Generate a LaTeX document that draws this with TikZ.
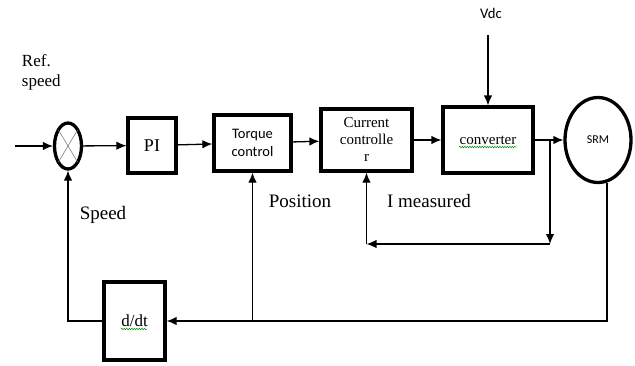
\documentclass[tikz,border=0pt]{standalone}
\usepackage{fontspec}
\setmainfont{Liberation Serif}
\newfontfamily\calibri{Carlito}
\usetikzlibrary{shapes.geometric,arrows.meta,decorations.pathmorphing}

\begin{document}
\begin{tikzpicture}
  [x=1pt,y=-1pt,line width=1.3pt,>={Latex[length=10pt,width=8.5pt]},
   block/.style={draw,line width=3.3pt,inner sep=0pt,align=center,font=\fontsize{15}{17}\selectfont},
   lbl/.style={font=\fontsize{19}{22}\selectfont},
   squiggle/.style={draw=green!55!black,line width=0.5pt,decorate,decoration={snake,amplitude=0.7pt,segment length=2.5pt}}]
  \useasboundingbox (0,0) rectangle (635,365);

  \node[ellipse,draw,line width=3.3pt,minimum width=27pt,minimum height=46pt] (sum) at (68,146) {};
  \node[block,minimum width=48pt,minimum height=55pt,font=\fontsize{18}{20}\selectfont] (pi) at (152,145.5) {PI};
  \node[block,minimum width=77pt,minimum height=56pt,font=\calibri\fontsize{14.5}{18}\selectfont] (torque) at (252.5,143) {Torque\\control};
  \node[block,minimum width=91pt,minimum height=62pt] (current) at (366.5,140) {Current\\controlle\\r};
  \node[block,minimum width=90pt,minimum height=66pt] (conv) at (488,140) {converter};
  \node[ellipse,draw,line width=3.3pt,minimum width=66pt,minimum height=85pt,inner sep=0pt,font=\calibri\fontsize{12}{14}\selectfont] (srm) at (598,140) {SRM};
  \node[block,minimum width=61pt,minimum height=78pt,font=\fontsize{17}{20}\selectfont] (ddt) at (134.5,321) {d/dt};

  \node[lbl,align=left,font=\fontsize{17}{20}\selectfont,anchor=west] (ref) at (18,72) {Ref.\\speed};
  \node[lbl] (spd) at (103,215) {Speed};
  \node[lbl] (posn) at (300,201) {Position};
  \node[lbl] (imeas) at (429,201) {I measured};
  \node[font=\calibri\fontsize{14.7}{17}\selectfont] (vdc) at (491,13) {Vdc};

  \coordinate (in) at (15,146);
  \coordinate (vdcin) at (488,35);
  \coordinate (tap) at (550,140);
  \coordinate (meas) at (550,244);

  \draw[gray,line width=0.6pt] (sum) ++(-9.5,-16) -- ++(19,32);
  \draw[gray,line width=0.6pt] (sum) ++(9.5,-16) -- ++(-19,32);

  \draw[->] (in) -- (sum);
  \foreach \from/\to in {sum/pi,pi/torque,torque/current,current/conv,conv/srm}
    \draw[->] (\from) -- (\to);
  \draw[->] (vdcin) -- (conv);
  \draw[->] (tap) -- (meas);
  \draw[->] (meas) -- (meas -| current);
  \draw[->] (meas -| current) -- (current);
  \draw[->] (srm.-78) |- (ddt);
  \draw[->] (torque |- ddt) -- (torque);
  \draw[->] (ddt) -| (sum);

  \draw[squiggle] (459,147) -- (516,147);
  \draw[squiggle] (121,329) -- (147,329);
\end{tikzpicture}
\end{document}
